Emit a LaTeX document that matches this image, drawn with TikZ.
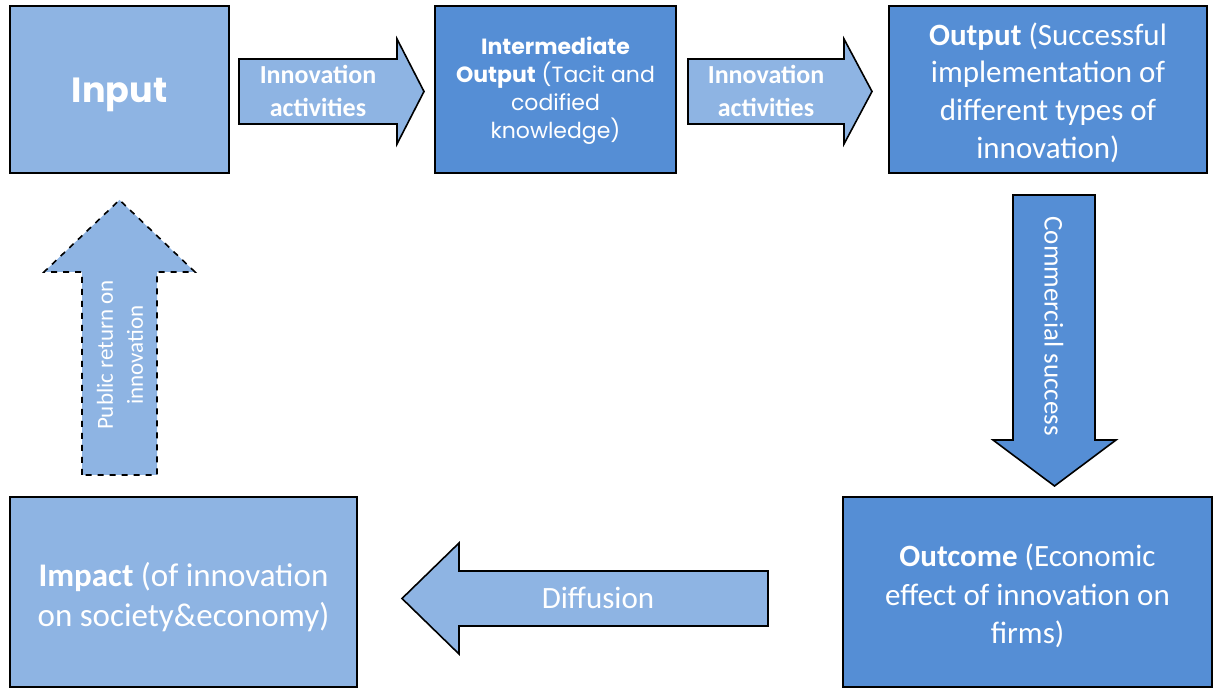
\documentclass[tikz,border=0pt]{standalone}
\usepackage{fontspec}
\setmainfont{Carlito}
\newfontfamily\gothicfont{Poppins}
\definecolor{lightblue}{HTML}{8EB4E3}
\definecolor{darkblue}{HTML}{558ED5}

\begin{document}
\begin{tikzpicture}[x=0.5pt,y=-0.5pt,
    box/.style={draw=black,line width=0.8pt,inner sep=0pt},
    blockarrow/.style={draw=black,line width=0.8pt,line join=miter},
    arrowtext/.style={text=white,align=center,inner sep=0pt}]
  \useasboundingbox (0,0) rectangle (1214,688);

  % boxes
  \node[box,fill=lightblue,minimum width=109.5pt,minimum height=83.5pt] (input) at (119.5,89.5) {};
  \node[box,fill=darkblue,minimum width=120.5pt,minimum height=83.5pt] (interm) at (555.5,89.5) {};
  \node[box,fill=darkblue,minimum width=159pt,minimum height=83.5pt] (output) at (1048,89.5) {};
  \node[box,fill=darkblue,minimum width=184.5pt,minimum height=95pt] (outcome) at (1027.5,592) {};
  \node[box,fill=lightblue,minimum width=173.5pt,minimum height=95pt] (impact) at (183.5,592) {};

  \node[arrowtext,font=\gothicfont\bfseries\fontsize{17.5}{21}\selectfont]
    (inputtxt) at ([yshift=-2.5pt]input.center) {Input};
  \node[arrowtext,font=\gothicfont\fontsize{11}{14}\selectfont]
    (intermtxt) at ([yshift=-0.5pt]interm.center) {\textbf{Intermediate}\\\textbf{Output} (Tacit and\\codified\\knowledge)};
  \node[arrowtext,font=\fontsize{15.5}{18.8}\selectfont]
    (outputtxt) at ([yshift=-1.5pt]output.center) {\textbf{Output} (Successful\\implementation of\\different types of\\innovation)};
  \node[arrowtext,font=\fontsize{15.5}{19.3}\selectfont]
    (outcometxt) at ([yshift=-2pt]outcome.center) {\textbf{Outcome} (Economic\\effect of innovation on\\firms)};
  \node[arrowtext,font=\fontsize{16.5}{20}\selectfont]
    (impacttxt) at ([yshift=-2.5pt]impact.center) {\textbf{Impact} (of innovation\\on society\&economy)};

  % block arrows
  \draw[blockarrow,fill=lightblue] (239,59) -- (397,59) -- (397,39) -- (424,91.5)
    -- (397,144) -- (397,124) -- (239,124) -- cycle;
  \draw[blockarrow,fill=lightblue] (688,59) -- (844,59) -- (844,39) -- (872,91.5)
    -- (844,144) -- (844,124) -- (688,124) -- cycle;
  \draw[blockarrow,fill=darkblue] (1013,195) -- (1095,195) -- (1095,440) -- (1116,440)
    -- (1054.5,486) -- (993,440) -- (1013,440) -- cycle;
  \draw[blockarrow,fill=lightblue] (768,571) -- (459,571) -- (459,543) -- (402,598.5)
    -- (459,654) -- (459,626) -- (768,626) -- cycle;
  \draw[blockarrow,fill=lightblue,dashed] (82,475) -- (82,272) -- (44,272) -- (119.5,200)
    -- (195,272) -- (157,272) -- (157,475) -- cycle;

  % arrow texts
  \node[arrowtext,font=\bfseries\fontsize{13}{16.5}\selectfont] (act1) at (318,91) {Innovation\\activities};
  \node[arrowtext,font=\bfseries\fontsize{13}{16.5}\selectfont] (act2) at (766,91) {Innovation\\activities};
  \node[arrowtext,rotate=-90,font=\fontsize{13.5}{16}\selectfont] (commercial) at (1054,326) {Commercial success};
  \node[arrowtext,font=\fontsize{15.5}{19}\selectfont] (diffusion) at (598,598) {Diffusion};
  \node[arrowtext,rotate=90,font=\fontsize{11.5}{15}\selectfont] (publicret) at (120,355) {Public return on\\innovation};
\end{tikzpicture}
\end{document}
